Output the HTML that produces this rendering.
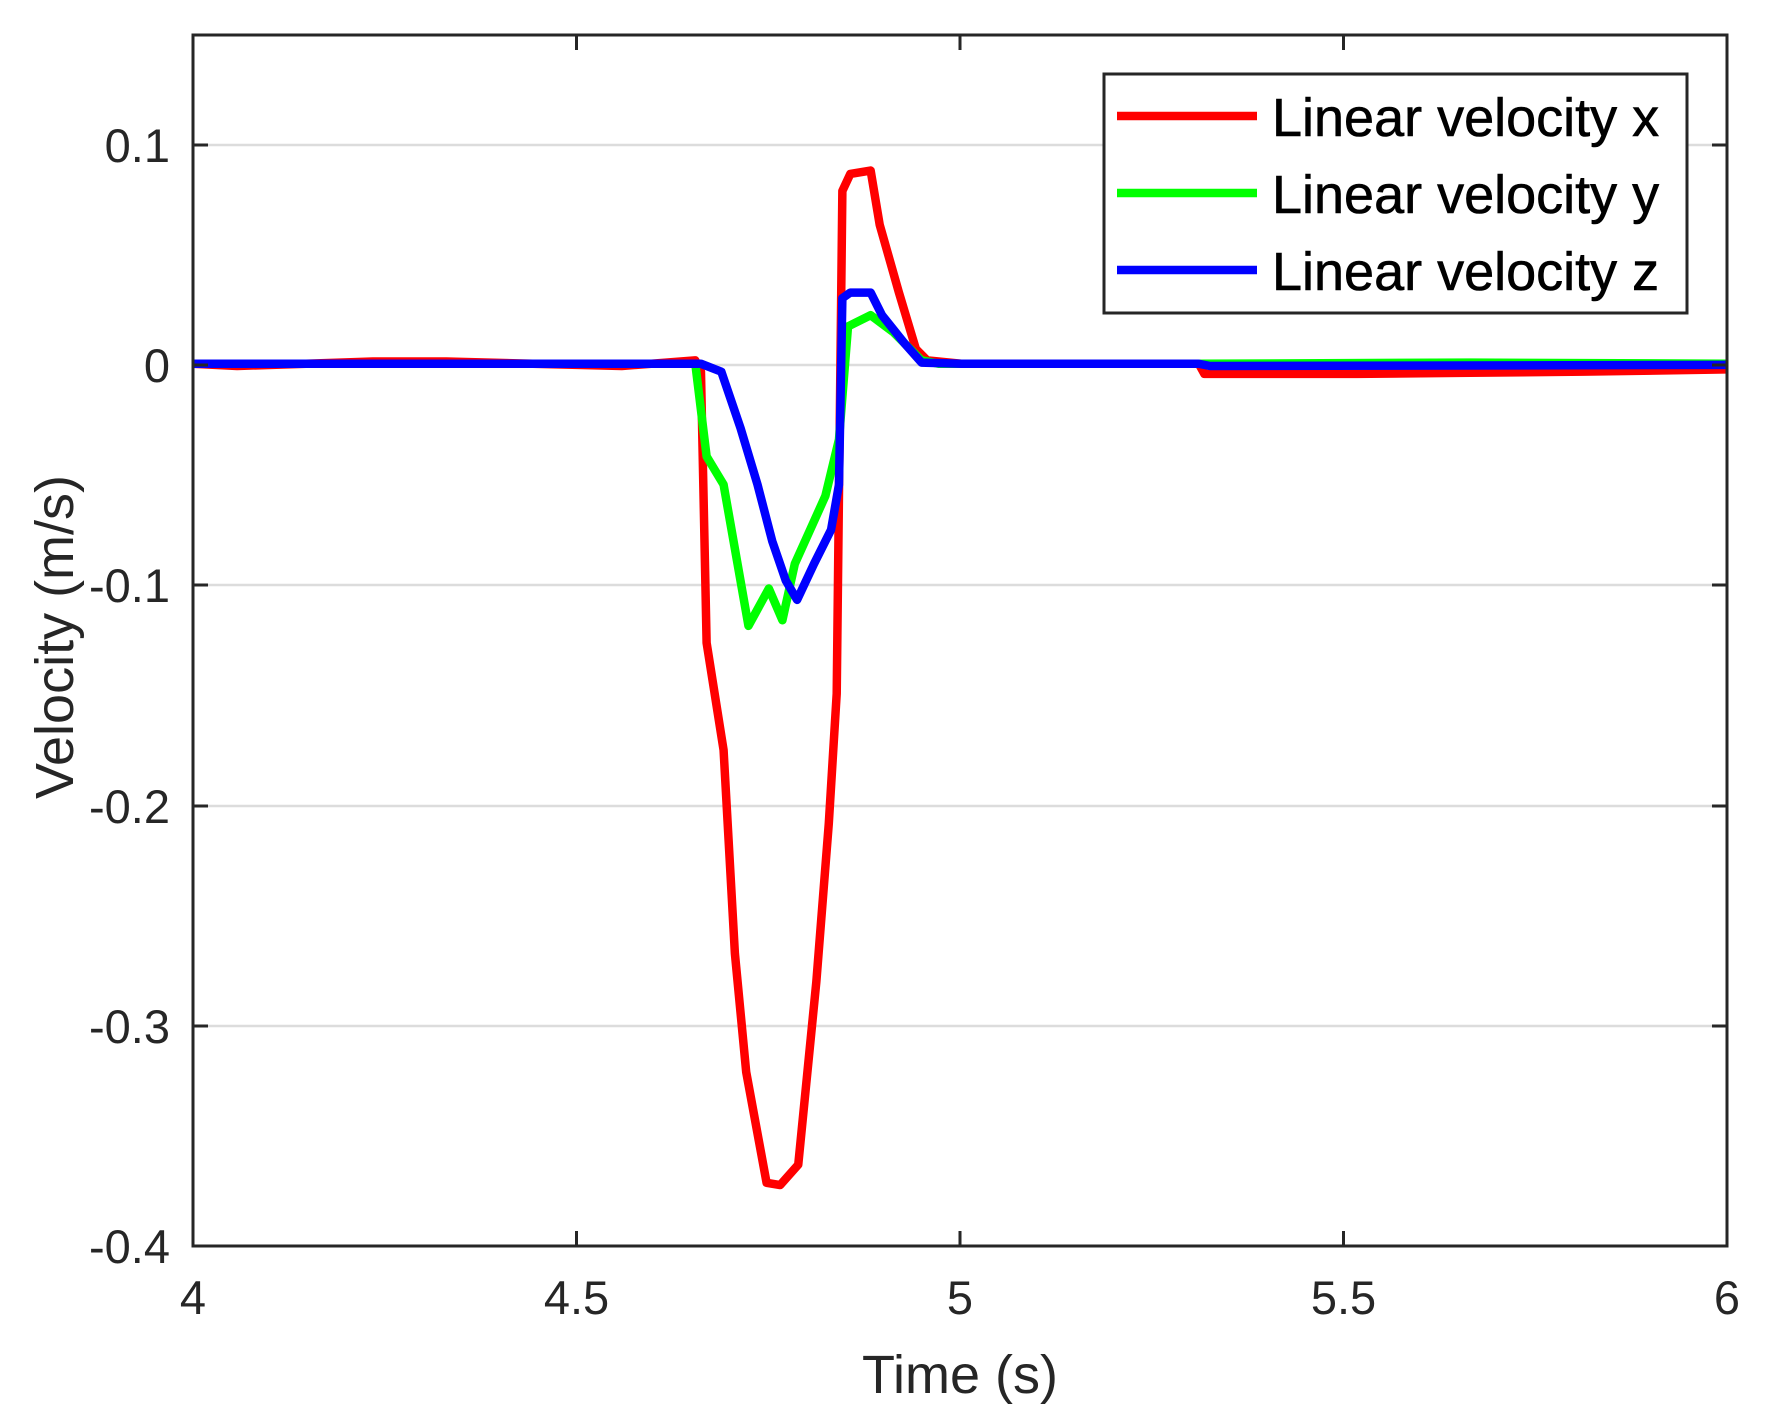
<!DOCTYPE html>
<html><head><style>body{margin:0;background:#fff}svg{display:block}</style></head><body>
<svg width="1771" height="1428" xmlns="http://www.w3.org/2000/svg" font-family="Liberation Sans, Arial, sans-serif" fill="#262626">
<g stroke="#dcdcdc" stroke-width="2.5">
<line x1="193" x2="1727" y1="145" y2="145"/><line x1="193" x2="1727" y1="365" y2="365"/><line x1="193" x2="1727" y1="585" y2="585"/><line x1="193" x2="1727" y1="806" y2="806"/><line x1="193" x2="1727" y1="1026" y2="1026"/>
</g>
<g fill="none" stroke-linejoin="round" stroke-width="8.5" transform="translate(193,35) scale(1.1313,1.1297) translate(-171,-32)">
<polyline vector-effect="non-scaling-stroke" stroke="#ff0000" points="171,323 210,325 330,321 395,321 550,325 615,320 620,330 625,570 640,665 650,845 660,950 678,1048 690,1050 706,1032 722,870 733,730 740,615 745,170 752,155 770,152 778,200 795,260 810,310 820,320 850,323 1060,323 1065,332 1200,332 1300,331 1400,330 1527,328"/>
<polyline vector-effect="non-scaling-stroke" stroke="#00ff00" points="171,323 615,323 625,405 640,430 662,555 680,522 692,550 703,500 730,440 742,390 750,290 770,280 790,295 815,320 830,323 1060,323 1300,322 1527,323"/>
<polyline vector-effect="non-scaling-stroke" stroke="#0000ff" points="171,323 620,323 638,330 655,380 670,430 683,480 695,515 705,532 720,500 735,470 742,430 745,265 752,260 770,260 780,280 800,305 815,322 850,323 1060,323 1070,325 1527,324"/>
</g>
<rect x="193" y="35" width="1534" height="1211" fill="none" stroke="#262626" stroke-width="3"/>
<g stroke="#262626" stroke-width="3">
<line x1="193" x2="208" y1="145" y2="145"/><line x1="193" x2="208" y1="365" y2="365"/><line x1="193" x2="208" y1="585" y2="585"/><line x1="193" x2="208" y1="806" y2="806"/><line x1="193" x2="208" y1="1026" y2="1026"/>
<line x1="1712" x2="1727" y1="145" y2="145"/><line x1="1712" x2="1727" y1="365" y2="365"/><line x1="1712" x2="1727" y1="585" y2="585"/><line x1="1712" x2="1727" y1="806" y2="806"/><line x1="1712" x2="1727" y1="1026" y2="1026"/>
<line x1="576.5" x2="576.5" y1="1246" y2="1231"/><line x1="960" x2="960" y1="1246" y2="1231"/><line x1="1343.5" x2="1343.5" y1="1246" y2="1231"/>
<line x1="576.5" x2="576.5" y1="35" y2="50"/><line x1="960" x2="960" y1="35" y2="50"/><line x1="1343.5" x2="1343.5" y1="35" y2="50"/>
</g>
<g font-size="47" text-anchor="end">
<text x="170" y="162">0.1</text><text x="170" y="382">0</text><text x="170" y="602">-0.1</text><text x="170" y="823">-0.2</text><text x="170" y="1043">-0.3</text><text x="170" y="1263">-0.4</text>
</g>
<g font-size="47" text-anchor="middle">
<text x="193" y="1314">4</text><text x="576.5" y="1314">4.5</text><text x="960" y="1314">5</text><text x="1343.5" y="1314">5.5</text><text x="1727" y="1314">6</text>
</g>
<text x="960" y="1393" font-size="54" text-anchor="middle">Time (s)</text>
<text transform="translate(73,637) rotate(-90)" font-size="54" text-anchor="middle">Velocity (m/s)</text>
<rect x="1104" y="74" width="583" height="239" fill="#fff" stroke="#262626" stroke-width="3"/>
<g stroke-width="8.5">
<line x1="1117" x2="1257" y1="116" y2="116" stroke="#ff0000"/>
<line x1="1117" x2="1257" y1="193" y2="193" stroke="#00ff00"/>
<line x1="1117" x2="1257" y1="270" y2="270" stroke="#0000ff"/>
</g>
<g font-size="54" fill="#000" stroke="#000" stroke-width="0.6">
<text x="1272" y="136">Linear velocity x</text><text x="1272" y="213">Linear velocity y</text><text x="1272" y="290">Linear velocity z</text>
</g>
</svg>
</body></html>
